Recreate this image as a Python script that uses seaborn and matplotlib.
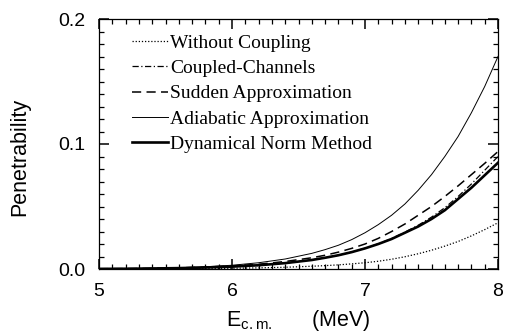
import numpy as np
import pandas as pd
import matplotlib
matplotlib.use("Agg")
import matplotlib.pyplot as plt
import seaborn as sns
from matplotlib.ticker import MultipleLocator

energy = [5.0, 5.2, 5.4, 5.6, 5.8, 6.0, 6.2, 6.4, 6.6, 6.7, 6.8, 6.9, 7.0,
          7.1, 7.2, 7.3, 7.4, 7.5, 7.6, 7.7, 7.8, 7.9, 8.0]
without_coupling = [0.0001, 0.0001, 0.0002, 0.0003, 0.0004, 0.0006, 0.0009, 0.0014, 0.0022,
                    0.0027, 0.0033, 0.0041, 0.005, 0.0062, 0.0078, 0.0098, 0.0122, 0.015,
                    0.0183, 0.022, 0.0265, 0.0315, 0.037]
coupled_channels = [0.0001, 0.0002, 0.0004, 0.0007, 0.0012, 0.0019, 0.003, 0.0047, 0.0073,
                    0.009, 0.011, 0.0136, 0.0166, 0.0202, 0.0244, 0.0295, 0.035, 0.0415,
                    0.049, 0.058, 0.068, 0.079, 0.090]
sudden = [0.0002, 0.0003, 0.0005, 0.0009, 0.0015, 0.0024, 0.0038, 0.006, 0.009,
          0.011, 0.0135, 0.0165, 0.020, 0.0245, 0.030, 0.036, 0.043, 0.050,
          0.058, 0.0665, 0.0755, 0.0845, 0.094]
adiabatic = [0.0002, 0.0003, 0.0006, 0.001, 0.0018, 0.003, 0.005, 0.008, 0.0125,
             0.0155, 0.019, 0.0235, 0.029, 0.0355, 0.043, 0.052, 0.063, 0.0755,
             0.090, 0.106, 0.125, 0.146, 0.170]
dynamical_norm = [0.0001, 0.0002, 0.0004, 0.0007, 0.0012, 0.0019, 0.003, 0.0047, 0.0072,
                  0.009, 0.011, 0.0135, 0.0165, 0.020, 0.024, 0.029, 0.034, 0.040,
                  0.047, 0.056, 0.065, 0.075, 0.085]

labels = ["Without Coupling", "Coupled-Channels", "Sudden Approximation",
          "Adiabatic Approximation", "Dynamical Norm Method"]
x_ticks = [5, 6, 7, 8]
y_ticks = [0.0, 0.1, 0.2]
y_ticklabels = ["0.0", "0.1", "0.2"]

plt.rcParams["font.family"] = ["Liberation Sans", "DejaVu Sans"]
plt.rcParams["mathtext.fontset"] = "custom"
plt.rcParams["mathtext.rm"] = "Liberation Sans"

fig = plt.figure(figsize=(5.07, 3.35), dpi=100)
ax = fig.add_axes([99 / 507, 1 - 269 / 335, 399 / 507, 250 / 335])

series = [without_coupling, coupled_channels, sudden, adiabatic, dynamical_norm]
styles = [
    dict(linestyle=(0, (1, 1.5)), linewidth=0.9),
    dict(linestyle=(0, (5, 2, 1, 2)), linewidth=0.9),
    dict(linestyle=(0, (6, 3.5)), linewidth=1.1),
    dict(linestyle="-", linewidth=0.7),
    dict(linestyle="-", linewidth=1.9),
]
for vals, lab, st in zip(series, labels, styles):
    df = pd.DataFrame({"E": energy, "P": vals})
    sns.lineplot(data=df, x="E", y="P", ax=ax, color="black", label=lab, **st)

ax.set_xlim(5, 8)
ax.set_ylim(0, 0.2)
ax.set_xticks(x_ticks)
ax.set_xticklabels([str(v) for v in x_ticks])
ax.set_yticks(y_ticks)
ax.set_yticklabels(y_ticklabels)
ax.xaxis.set_minor_locator(MultipleLocator(0.1))
ax.yaxis.set_minor_locator(MultipleLocator(0.01))
ax.tick_params(which="both", direction="in", top=True, right=True, bottom=True, left=True,
               color="black", labelcolor="black", labelsize=14)
ax.tick_params(which="major", length=7, width=1.1, pad=10)
ax.tick_params(which="minor", length=3.5, width=0.9)
for s in ax.spines.values():
    s.set_linewidth(0.9)
    s.set_color("black")

ax.set_xlabel(r"E$_{\rm c.m.}$      (MeV)", fontsize=15.5, labelpad=6)
ax.set_ylabel("Penetrability", fontsize=15.5)
ax.yaxis.set_label_coords(-0.172, 0.448)

leg = ax.legend(loc="upper left", bbox_to_anchor=(0.083, 0.94), frameon=False,
                prop={"family": "Liberation Serif", "size": 14},
                handlelength=1.85, handletextpad=0.1, labelspacing=0.4,
                borderpad=0, borderaxespad=0)

fig.savefig("out.png", dpi=100)
